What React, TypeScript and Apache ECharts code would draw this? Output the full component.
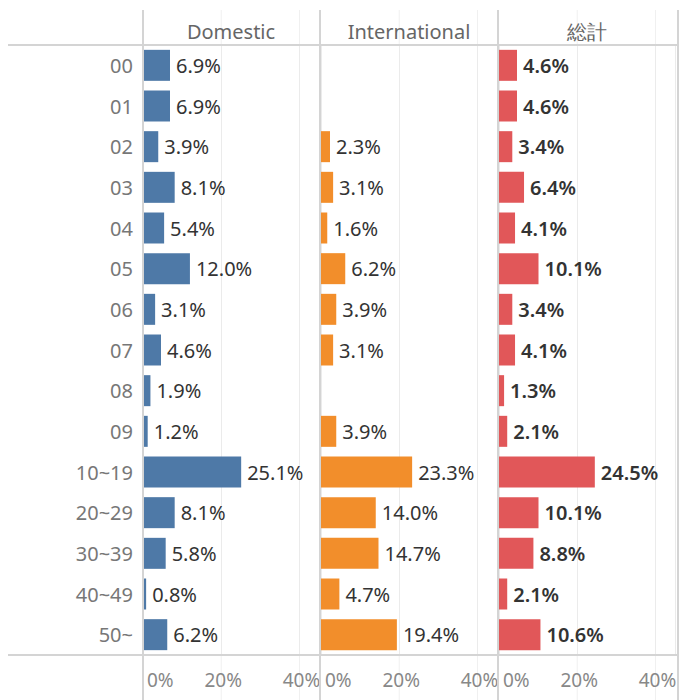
import React, { useEffect, useRef } from "react";
import * as echarts from "echarts";

const categories = ["00", "01", "02", "03", "04", "05", "06", "07", "08", "09", "10~19", "20~29", "30~39", "40~49", "50~"];
const panelTitles = ["Domestic", "International", "総計"];
const domestic = [6.9, 6.9, 3.9, 8.1, 5.4, 12.0, 3.1, 4.6, 1.9, 1.2, 25.1, 8.1, 5.8, 0.8, 6.2];
const international = [null, null, 2.3, 3.1, 1.6, 6.2, 3.9, 3.1, null, 3.9, 23.3, 14.0, 14.7, 4.7, 19.4];
const total = [4.6, 4.6, 3.4, 6.4, 4.1, 10.1, 3.4, 4.1, 1.3, 2.1, 24.5, 10.1, 8.8, 2.1, 10.6];
const colors = ["#4E79A7", "#F28E2B", "#E15759"];
const xTicks = [0, 20, 40];

const FONT = "'Noto Sans', sans-serif";

export default function App() {
  const ref = useRef<HTMLDivElement>(null);
  useEffect(() => {
    if (!ref.current) return;
    const chart = echarts.init(ref.current, undefined, { renderer: "svg" });
    const seriesData = [domestic, international, total];
    const gridLefts = [143, 321, 499];
    const gridWidth = 176;
    const top = 45;
    const bottom = 655;
    const H = 700;

    const grids = gridLefts.map((l) => ({ left: l, width: gridWidth, top, height: bottom - top }));
    const xAxes = gridLefts.map((_, i) => ({
      type: "value",
      gridIndex: i,
      min: 0,
      max: 45,
      interval: 20,
      axisLine: { show: false },
      axisTick: { show: false },
      splitLine: { show: true, lineStyle: { color: "#ebebeb", width: 1 } },
      axisLabel: {
        show: true,
        showMaxLabel: false,
        alignMinLabel: "left",
        margin: 15,
        color: "#888",
        fontSize: 19,
        fontFamily: FONT,
        formatter: (v: number) => (xTicks.includes(v) ? v + "%" : ""),
        padding: [0, 0, 0, 4],
      },
    }));
    const yAxes = gridLefts.map((_, i) => ({
      type: "category",
      gridIndex: i,
      inverse: true,
      data: categories,
      axisLine: { show: false },
      axisTick: { show: false },
      axisLabel: {
        show: i === 0,
        color: "#777",
        fontSize: 20,
        fontFamily: FONT,
        margin: 10,
      },
    }));
    const series = seriesData.map((d, i) => ({
      type: "bar",
      xAxisIndex: i,
      yAxisIndex: i,
      data: d,
      barWidth: 31,
      itemStyle: { color: colors[i] },
      label: {
        show: true,
        position: "right",
        distance: 6,
        color: "#333",
        fontSize: 20,
        fontWeight: i === 2 ? 600 : 400,
        fontFamily: FONT,
        formatter: (p: any) => (p.value == null ? "" : Number(p.value).toFixed(1) + "%"),
      },
    }));

    const lineStyle = { stroke: "#d4d4d4", lineWidth: 2 };
    const graphic: any[] = [];
    const dividers = [143, 320, 498, 678];
    dividers.forEach((x) => {
      graphic.push({ type: "line", shape: { x1: x, y1: 10, x2: x, y2: H }, style: lineStyle, z: 10 });
    });
    graphic.push({ type: "line", shape: { x1: 8, y1: top, x2: 678, y2: top }, style: lineStyle, z: 10 });
    graphic.push({ type: "line", shape: { x1: 8, y1: bottom, x2: 678, y2: bottom }, style: lineStyle, z: 10 });
    gridLefts.forEach((l) => {
      [20, 40].forEach((t) => {
        const x = l + (t / 45) * gridWidth;
        graphic.push({ type: "line", shape: { x1: x, y1: 10, x2: x, y2: top }, style: { stroke: "#f0f0f0", lineWidth: 1 } });
        graphic.push({ type: "line", shape: { x1: x, y1: bottom, x2: x, y2: H }, style: { stroke: "#f0f0f0", lineWidth: 1 } });
      });
    });
    panelTitles.forEach((t, i) => {
      graphic.push({
        type: "text",
        x: gridLefts[i] + gridWidth / 2,
        y: 31,
        style: {
          text: t,
          fill: "#666",
          fontSize: 20,
          fontFamily: FONT,
          align: "center",
          verticalAlign: "middle",
        },
      });
    });

    chart.setOption({
      animation: false,
      grid: grids,
      xAxis: xAxes,
      yAxis: yAxes,
      series,
      graphic,
    });
    return () => chart.dispose();
  }, []);
  return (
    <div
      ref={ref}
      style={{ position: "fixed", left: 0, top: 0, width: 685, height: 700, background: "#fff" }}
    />
  );
}
